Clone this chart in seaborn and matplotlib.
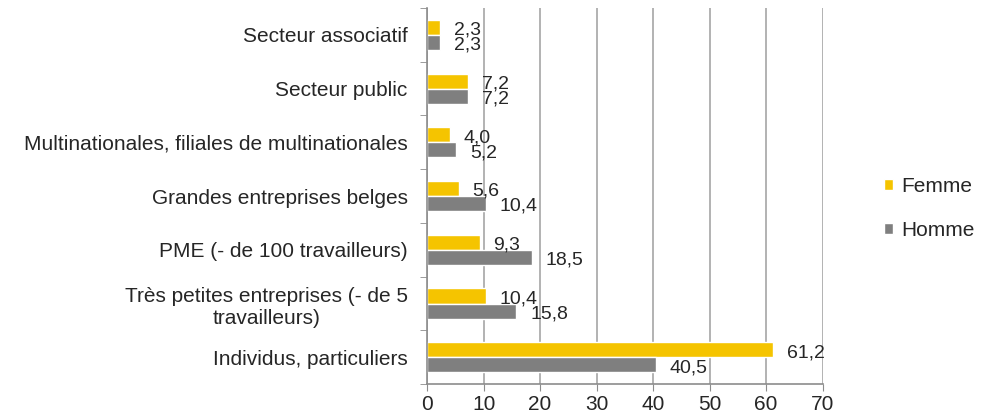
import seaborn as sns
from matplotlib import pyplot as plt
import pandas as pd

categories = [
    'Secteur associatif',
    'Secteur public',
    'Multinationales, filiales de multinationales',
    'Grandes entreprises belges',
    'PME (- de 100 travailleurs)',
    'Très petites entreprises (- de 5\ntravailleurs)',
    'Individus, particuliers',
]
femme = [2.3, 7.2, 4.0, 5.6, 9.3, 10.4, 61.2]
homme = [2.3, 7.2, 5.2, 10.4, 18.5, 15.8, 40.5]
series = ['Femme', 'Homme']
colors = ['#F5C400', '#7F7F7F']


def main():
    df = pd.DataFrame({
        'categorie': categories * 2,
        'valeur': femme + homme,
        'sexe': ['Femme'] * len(categories) + ['Homme'] * len(categories),
    })

    sns.set_style('white')
    plt.rcParams['font.family'] = ['Liberation Sans', 'DejaVu Sans']

    fig = plt.figure(figsize=(9.84, 4.18), dpi=100)
    ax = fig.add_axes([0.434, 0.081, 0.402, 0.900])

    sns.barplot(data=df, y='categorie', x='valeur', hue='sexe',
                order=categories, hue_order=series, palette=colors,
                orient='h', width=0.56, saturation=1, ax=ax)

    for cont in ax.containers:
        for p in cont:
            v = p.get_width()
            ax.annotate(f'{v:.1f}'.replace('.', ','),
                        xy=(v, p.get_y() + p.get_height() / 2),
                        xytext=(10, -2), textcoords='offset points',
                        ha='left', va='center', fontsize=14)

    ax.set_xlim(0, 70)
    ax.set_xticks(range(0, 71, 10))
    ax.set_ylim(len(categories) - 0.5, -0.5)
    ax.set_yticks(range(len(categories)))
    ax.set_yticklabels(categories, fontsize=15, multialignment='center')
    ax.set_yticks([i - 0.5 for i in range(len(categories) + 1)], minor=True)
    ax.tick_params(axis='y', which='major', length=0, pad=14)
    ax.tick_params(axis='y', which='minor', length=5, color='#8C8C8C',
                   direction='out', left=True)
    ax.tick_params(axis='x', length=5, color='#8C8C8C', direction='out',
                   bottom=True, labelsize=15, pad=3)
    ax.set_xlabel('')
    ax.set_ylabel('')

    ax.grid(axis='x', color='#A6A6A6', linewidth=1.2)
    ax.set_axisbelow(True)
    for s in ['top', 'right']:
        ax.spines[s].set_visible(False)
    for s in ['left', 'bottom']:
        ax.spines[s].set_color('#8C8C8C')
        ax.spines[s].set_linewidth(1.2)

    ax.legend(loc='center left', bbox_to_anchor=(1.155, 0.468), frameon=False,
              fontsize=15, handlelength=0.45, handleheight=0.45,
              handletextpad=0.4, labelspacing=1.2, borderpad=0,
              borderaxespad=0)

    fig.savefig('out.png')


if __name__ == '__main__':
    main()
